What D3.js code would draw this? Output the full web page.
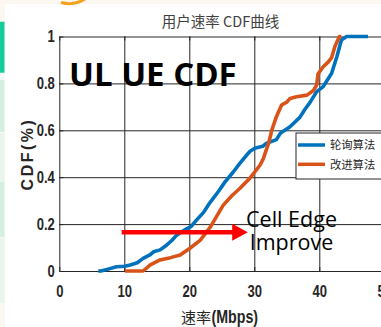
<!DOCTYPE html>
<html>
<head>
<meta charset="utf-8">
<script src="https://cdn.jsdelivr.net/npm/d3@7"></script>
<style>
  html, body { margin: 0; padding: 0; background: #fcf7f0; }
  svg { display: block; }
</style>
</head>
<body>
<div id="chart"></div>
<script>
// rate (Mbps) / CDF pairs
const pollRate = [6.0, 6.4, 7.5, 8.8, 10.1, 10.9, 12.0, 12.9, 14.0, 14.5, 15.5, 16.5, 17.3, 18.1, 19.6, 20.3, 21.1, 22.2, 22.9, 23.3, 24.5, 25.5, 26.7, 27.8, 29.0, 29.4, 30.2, 31.3, 31.9, 33.4, 34.0, 35.5, 37.0, 37.8, 38.6, 39.6, 40.6, 40.9, 41.9, 42.2, 42.7, 43.4, 44.2, 47.5];
const pollCdf = [0, 0, 0.008, 0.018, 0.02, 0.026, 0.035, 0.054, 0.07, 0.082, 0.09, 0.11, 0.13, 0.154, 0.18, 0.19, 0.217, 0.25, 0.28, 0.296, 0.34, 0.38, 0.42, 0.46, 0.5, 0.512, 0.525, 0.532, 0.545, 0.56, 0.587, 0.615, 0.655, 0.69, 0.72, 0.765, 0.786, 0.8, 0.843, 0.87, 0.914, 0.985, 1, 1];

const newRate = [10.1, 12.9, 14.0, 15.5, 17.1, 18.6, 20.1, 21.7, 22.9, 23.3, 25.2, 26.5, 27.8, 29.3, 30.9, 31.4, 32.2, 32.7, 33.4, 34.2, 35.0, 35.5, 36.5, 38.1, 39.1, 39.6, 39.8, 40.6, 41.4, 41.9, 42.4, 43.1, 43.4];
const newCdf = [0, 0, 0.026, 0.047, 0.057, 0.068, 0.097, 0.132, 0.175, 0.19, 0.28, 0.32, 0.353, 0.395, 0.452, 0.48, 0.545, 0.601, 0.658, 0.708, 0.72, 0.736, 0.743, 0.75, 0.77, 0.793, 0.84, 0.871, 0.892, 0.91, 0.957, 1, 1];

const seriesNames = ["轮询算法", "改进算法"];
const seriesColors = ["#0072bd", "#d95319"];
const xTicks = [0, 10, 20, 30, 40, 50];
const yTicks = [0, 0.2, 0.4, 0.6, 0.8, 1];

const W = 381, H = 327;
const svg = d3.select("#chart").append("svg")
  .attr("width", W).attr("height", H);

// slide background bits
svg.append("rect").attr("x", 0).attr("y", 0).attr("width", W).attr("height", H).attr("fill", "#fcf7f0");
svg.append("rect").attr("x", 5).attr("y", 4).attr("width", W - 5).attr("height", H - 4).attr("fill", "#ffffff");
const strip = [[21.7, 72.7, "#14cc98"], [73, 80, "#f1f9f4"], [80, 132, "#d3efe2"], [133, 182, "#e8f6ee"],
  [182, 237, "#d3efe2"], [238, 303, "#e8f6ee"]];
svg.append("g").selectAll("rect").data(strip).enter().append("rect")
  .attr("x", 0).attr("width", 4.5)
  .attr("y", d => d[0]).attr("height", d => d[1] - d[0])
  .attr("fill", d => d[2]);
svg.append("path").attr("d", "M61,2.5 Q74,6 85,-1")
  .attr("fill", "none").attr("stroke", "#f2a31b").attr("stroke-width", 3);

const x = d3.scaleLinear().domain([0, 50]).range([59.3, 384.3]);
const y = d3.scaleLinear().domain([0, 1]).range([271, 36.5]);

const tickFont = "'Liberation Sans', Arial, sans-serif";
const squeeze = 0.79; // the tick font in the picture is a narrow bold face

// grid
svg.append("g")
  .attr("transform", `translate(0,${y(0)})`)
  .call(d3.axisBottom(x).tickValues(xTicks.slice(1)).tickSize(-(y(0) - y(1))).tickFormat(""))
  .call(g => g.select(".domain").remove())
  .call(g => g.selectAll("line").attr("stroke", "#e2e2e2"));
svg.append("g")
  .attr("transform", `translate(${x(0)},0)`)
  .call(d3.axisLeft(y).tickValues(yTicks.slice(1, 5)).tickSize(-(x(50) - x(0))).tickFormat(""))
  .call(g => g.select(".domain").remove())
  .call(g => g.selectAll("line").attr("stroke", "#e2e2e2"));

// axes
const xAxis = svg.append("g")
  .attr("transform", `translate(0,${y(0)})`)
  .call(d3.axisBottom(x).tickValues(xTicks).tickSizeInner(-4).tickSizeOuter(0).tickPadding(14));
const yAxis = svg.append("g")
  .attr("transform", `translate(${x(0)},0)`)
  .call(d3.axisLeft(y).tickValues(yTicks).tickSizeInner(-4).tickSizeOuter(0).tickPadding(4.5)
    .tickFormat(d => d3.format("")(+d.toFixed(1))));
svg.append("g")
  .attr("transform", `translate(0,${y(1)})`)
  .call(d3.axisTop(x).tickValues(xTicks).tickSizeInner(-4).tickSizeOuter(0).tickFormat(""));
[xAxis, yAxis].forEach(a => {
  a.selectAll("text")
    .attr("font-family", tickFont).attr("font-weight", "bold")
    .attr("font-size", 16.5).attr("fill", "#262626")
    .attr("x", function () { return (+this.getAttribute("x") || 0) / squeeze; })
    .attr("transform", `scale(${squeeze},1)`);
});
svg.selectAll(".domain, .tick line").attr("stroke", "#262626");

// curves
const line = d3.line().x(d => x(d[0])).y(d => y(d[1]));
const series = [d3.zip(pollRate, pollCdf), d3.zip(newRate, newCdf)];
svg.append("g").selectAll("path").data(series).enter().append("path")
  .attr("d", line)
  .attr("fill", "none")
  .attr("stroke", (d, i) => seriesColors[i])
  .attr("stroke-width", 3.6)
  .attr("stroke-linejoin", "round");

// title and axis labels
svg.append("text").attr("x", 220.5).attr("y", 26.5).attr("text-anchor", "middle")
  .attr("font-family", "'Noto Sans CJK SC', sans-serif").attr("font-size", 14.5)
  .attr("fill", "#404040").text("用户速率 CDF曲线");

svg.append("text").attr("x", 211).attr("y", 323).attr("text-anchor", "end")
  .attr("font-family", "'Noto Sans CJK SC', sans-serif").attr("font-size", 15)
  .attr("fill", "#262626").text("速率");
svg.append("text").attr("transform", `translate(211.5,323) scale(${squeeze},1)`)
  .attr("font-family", tickFont).attr("font-weight", "bold").attr("font-size", 18)
  .attr("fill", "#262626").text("(Mbps)");

svg.append("text").attr("transform", "translate(33,154) rotate(-90)").attr("text-anchor", "middle")
  .attr("font-family", "Arial, 'Liberation Sans', sans-serif").attr("font-weight", "bold")
  .attr("font-size", 16).attr("letter-spacing", 2.5).attr("fill", "#262626").text("CDF(%)");

// legend
const lg = svg.append("g").attr("transform", "translate(296,133)");
lg.append("rect").attr("width", 90).attr("height", 46).attr("fill", "#fff").attr("stroke", "#262626").attr("stroke-width", 1);
seriesNames.forEach((name, i) => {
  lg.append("line").attr("x1", 2).attr("x2", 29).attr("y1", 12 + i * 19.3).attr("y2", 12 + i * 19.3)
    .attr("stroke", seriesColors[i]).attr("stroke-width", 3.5);
  lg.append("text").attr("x", 34).attr("y", 16.2 + i * 19.3)
    .attr("font-family", "'Noto Sans CJK SC', sans-serif").attr("font-size", 11.3)
    .attr("fill", "#262626").text(name);
});

// annotations
svg.append("text").attr("x", 69).attr("y", 86)
  .attr("font-family", "'Open Sans', sans-serif").attr("font-weight", "bold").attr("font-size", 33)
  .attr("fill", "#000").text("UL UE CDF");

const arrowY = y(0.165);
svg.append("line").attr("x1", x(9.6)).attr("x2", x(26.8)).attr("y1", arrowY).attr("y2", arrowY)
  .attr("stroke", "#ff0000").attr("stroke-width", 4.5);
svg.append("path")
  .attr("d", `M${x(26.6)},${arrowY - 8.5} L${x(29.0)},${arrowY} L${x(26.6)},${arrowY + 8.5} Z`)
  .attr("fill", "#ff0000");

const note = svg.append("text").attr("text-anchor", "middle")
  .attr("font-family", "'Open Sans', sans-serif").attr("font-size", 21.5).attr("fill", "#000");
note.append("tspan").attr("x", 291.5).attr("y", 226.7).text("Cell Edge");
note.append("tspan").attr("x", 291.5).attr("y", 250).text("Improve");
</script>
</body>
</html>
